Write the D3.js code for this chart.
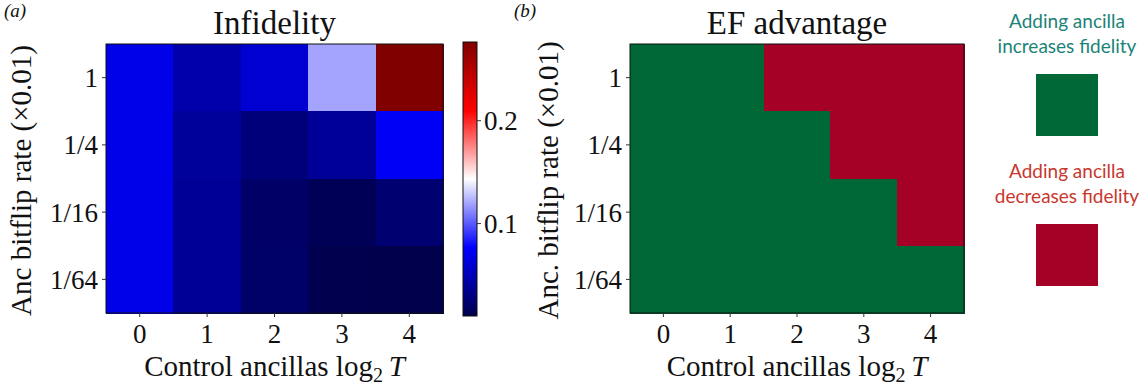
<!DOCTYPE html>
<html>
<head>
<meta charset="utf-8">
<script src="https://cdn.jsdelivr.net/npm/d3@7"></script>
<style>
  html, body { margin: 0; padding: 0; background: #fff; }
  svg { display: block; }
  .serif { font-family: "Liberation Serif", "DejaVu Serif", serif; fill: #111; }
  .legend { font-family: Lato, "Open Sans", sans-serif; }
</style>
</head>
<body>
<svg id="chart" width="1148" height="390"></svg>
<script>
// ---------------- data ----------------
const xCategories = [0, 1, 2, 3, 4];                 // log2 T
const yCategories = ["1", "1/4", "1/16", "1/64"];    // anc bitflip rate (x0.01), top to bottom

// Infidelity, one array per anc bitflip rate row
const infid_1    = [0.068, 0.045, 0.060, 0.119, 0.276];
const infid_1_4  = [0.068, 0.039, 0.027, 0.038, 0.073];
const infid_1_16 = [0.068, 0.037, 0.019, 0.013, 0.023];
const infid_1_64 = [0.068, 0.037, 0.020, 0.0105, 0.0097];
const infidelityRows = [infid_1, infid_1_4, infid_1_16, infid_1_64];

// EF advantage: 0 = adding ancilla increases fidelity, 1 = decreases fidelity
const ef_1    = [0, 0, 1, 1, 1];
const ef_1_4  = [0, 0, 0, 1, 1];
const ef_1_16 = [0, 0, 0, 0, 1];
const ef_1_64 = [0, 0, 0, 0, 0];
const efRows = [ef_1, ef_1_4, ef_1_16, ef_1_64];

const colorbarTicks = [0.1, 0.2];
const legendLabels = [["Adding ancilla", "increases fidelity"], ["Adding ancilla", "decreases fidelity"]];

// ---------------- drawing ----------------
const svg = d3.select("#chart");

const allVals = infidelityRows.flat();
const [vmin, vmax] = d3.extent(allVals);
// matplotlib "seismic" colormap
const seismicStops = ["rgb(0,0,77)", "rgb(0,0,255)", "rgb(255,255,255)", "rgb(255,0,0)", "rgb(128,0,0)"];
const color = d3.scaleLinear()
  .domain(d3.range(5).map(i => vmin + (vmax - vmin) * i / 4))
  .range(seismicStops)
  .interpolate(d3.interpolateRgb)
  .clamp(true);

const efColor = d3.scaleOrdinal().domain([0, 1]).range(["#006837", "#a50026"]);

function panel(opts) {
  const { x0, x1, y0, y1, rows, fill, title, ytitle, label } = opts;
  const g = svg.append("g");
  const x = d3.scaleBand().domain(xCategories).range([x0, x1]).padding(0);
  const y = d3.scaleBand().domain(yCategories).range([y0, y1]).padding(0);

  const cells = [];
  rows.forEach((r, i) => r.forEach((v, j) => cells.push({ xc: xCategories[j], yc: yCategories[i], v })));
  g.selectAll("rect.cell").data(cells).join("rect")
    .attr("class", "cell")
    .attr("x", d => x(d.xc))
    .attr("y", d => y(d.yc))
    .attr("width", x.bandwidth() + 0.5)
    .attr("height", y.bandwidth() + 0.5)
    .attr("fill", d => fill(d.v))
    .attr("shape-rendering", "crispEdges");

  g.append("rect")
    .attr("x", x0).attr("y", y0).attr("width", x1 - x0).attr("height", y1 - y0)
    .attr("fill", "none").attr("stroke", "#111").attr("stroke-width", 1);

  // x axis
  const xa = g.append("g").attr("transform", `translate(0,${y1})`)
    .call(d3.axisBottom(x).tickSize(4).tickPadding(4));
  xa.select(".domain").remove();
  xa.selectAll(".tick line").attr("stroke", "#333");
  xa.selectAll(".tick text").attr("class", "serif").attr("font-size", 27)
    .attr("y", 30).attr("dy", 0).attr("fill", "#111");

  // y axis
  const ya = g.append("g").attr("transform", `translate(${x0},0)`)
    .call(d3.axisLeft(y).tickSize(4).tickPadding(6));
  ya.select(".domain").remove();
  ya.selectAll(".tick line").attr("stroke", "#333");
  ya.selectAll(".tick text").attr("class", "serif").attr("font-size", 27)
    .attr("x", -8).attr("dy", "0.35em").attr("fill", "#111");

  // title
  g.append("text").attr("class", "serif")
    .attr("x", (x0 + x1) / 2).attr("y", 34)
    .attr("text-anchor", "middle").attr("font-size", 33)
    .text(title);

  // x label
  const xl = g.append("text").attr("class", "serif")
    .attr("x", (x0 + x1) / 2).attr("y", 376)
    .attr("text-anchor", "middle").attr("font-size", 29);
  xl.append("tspan").text("Control ancillas log");
  xl.append("tspan").attr("font-size", 20).attr("dy", 6).text("2");
  xl.append("tspan").attr("dy", -6).text("\u2009");
  xl.append("tspan").attr("font-style", "italic").text("T");

  // y label
  g.append("text").attr("class", "serif")
    .attr("transform", `translate(${opts.ytx},${(y0 + y1) / 2 + 2}) rotate(-90)`)
    .attr("text-anchor", "middle").attr("font-size", 29)
    .text(ytitle);

  // panel label
  g.append("text").attr("class", "serif")
    .attr("x", opts.lx).attr("y", 17)
    .attr("font-size", 19).attr("font-style", "italic")
    .text(label);

  return { x, y };
}

panel({ x0: 106, x1: 443, y0: 44, y1: 313, rows: infidelityRows, fill: color,
        title: "Infidelity", ytitle: "Anc bitflip rate (\u00d70.01)", label: "(a)", ytx: 31, lx: 4 });
panel({ x0: 630, x1: 964, y0: 44, y1: 313, rows: efRows, fill: efColor,
        title: "EF advantage", ytitle: "Anc. bitflip rate (\u00d70.01)", label: "(b)", ytx: 558, lx: 514 });

// ---------------- colorbar ----------------
const cbX = 463, cbW = 14, cbTop = 42, cbBot = 316;
const cbScale = d3.scaleLinear().domain([vmin, vmax]).range([cbBot, cbTop]);
const defs = svg.append("defs");
const grad = defs.append("linearGradient").attr("id", "cbgrad")
  .attr("x1", 0).attr("y1", 1).attr("x2", 0).attr("y2", 0);
grad.selectAll("stop").data(d3.range(0, 1.0001, 0.05)).join("stop")
  .attr("offset", d => d)
  .attr("stop-color", d => color(vmin + d * (vmax - vmin)));
svg.append("rect").attr("x", cbX).attr("y", cbTop).attr("width", cbW).attr("height", cbBot - cbTop)
  .attr("fill", "url(#cbgrad)").attr("stroke", "#111").attr("stroke-width", 1);
const cba = svg.append("g").attr("transform", `translate(${cbX + cbW},0)`)
  .call(d3.axisRight(cbScale).tickValues(colorbarTicks).tickFormat(d3.format(".1f")).tickSize(4).tickPadding(3));
cba.select(".domain").remove();
cba.selectAll(".tick line").attr("stroke", "#333");
cba.selectAll(".tick text").attr("class", "serif").attr("font-size", 27).attr("dy", "0.35em").attr("fill", "#111");

// ---------------- legend ----------------
const legendColors = [efColor(0), efColor(1)];
const legendTextColors = ["#1b8377", "#c8372d"];
const legendTop = [28, 178];
legendLabels.forEach((lines, i) => {
  const t = svg.append("text").attr("class", "legend")
    .attr("x", 1067).attr("y", legendTop[i])
    .attr("text-anchor", "middle").attr("font-size", 19)
    .attr("fill", legendTextColors[i]);
  lines.forEach((ln, k) => t.append("tspan").attr("x", 1067).attr("dy", k === 0 ? 0 : 25).text(ln));
  svg.append("rect").attr("x", 1036).attr("y", legendTop[i] + 46).attr("width", 62).attr("height", 62)
    .attr("fill", legendColors[i]);
});
</script>
</body>
</html>
